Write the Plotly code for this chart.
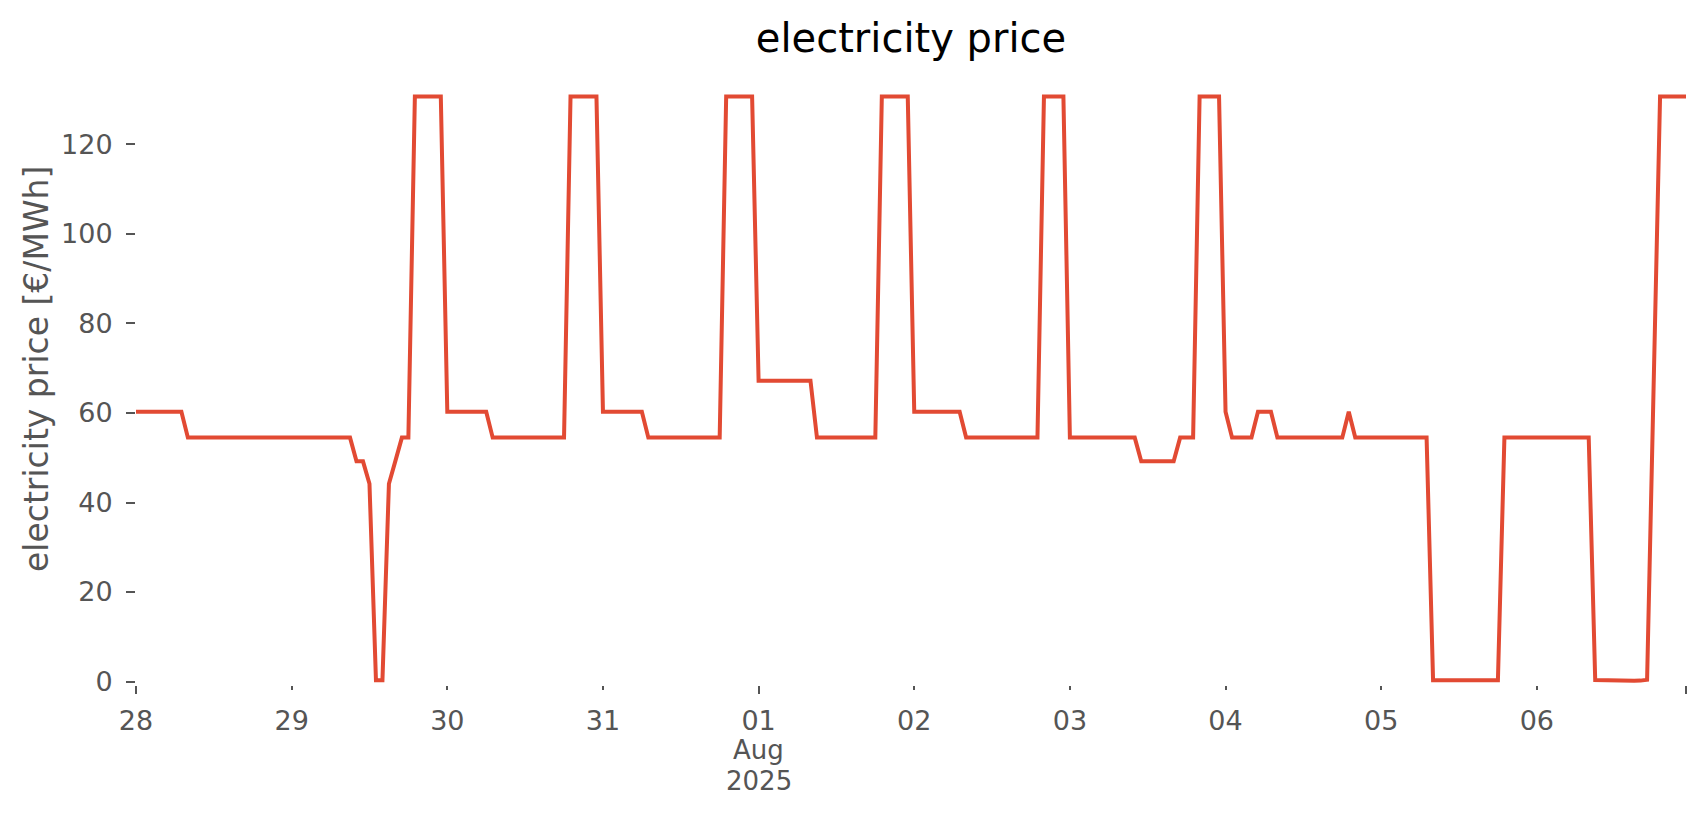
import pandas as pd
import plotly.graph_objects as go

# hourly timestamps (Jul 28 00:00 .. Aug 6 23:00, 2025)
start = "2025-07-28 00:00"
n_hours = 240

# hourly electricity price [€/MWh], one list per day
jul28 = [60.3, 60.3, 60.3, 60.3, 60.3, 60.3, 60.3, 60.3, 54.5, 54.5, 54.5, 54.5,
         54.5, 54.5, 54.5, 54.5, 54.5, 54.5, 54.5, 54.5, 54.5, 54.5, 54.5, 54.5]
jul29 = [54.5, 54.5, 54.5, 54.5, 54.5, 54.5, 54.5, 54.5, 54.5, 54.5, 49.2, 49.2,
         44.2, 0.3, 0.3, 44.2, 49.3, 54.5, 54.5, 130.7, 130.7, 130.7, 130.7, 130.7]
jul30 = [60.3, 60.3, 60.3, 60.3, 60.3, 60.3, 60.3, 54.5, 54.5, 54.5, 54.5, 54.5,
         54.5, 54.5, 54.5, 54.5, 54.5, 54.5, 54.5, 130.7, 130.7, 130.7, 130.7, 130.7]
jul31 = [60.3, 60.3, 60.3, 60.3, 60.3, 60.3, 60.3, 54.5, 54.5, 54.5, 54.5, 54.5,
         54.5, 54.5, 54.5, 54.5, 54.5, 54.5, 54.5, 130.7, 130.7, 130.7, 130.7, 130.7]
aug01 = [67.2, 67.2, 67.2, 67.2, 67.2, 67.2, 67.2, 67.2, 67.2, 54.5, 54.5, 54.5,
         54.5, 54.5, 54.5, 54.5, 54.5, 54.5, 54.5, 130.7, 130.7, 130.7, 130.7, 130.7]
aug02 = [60.3, 60.3, 60.3, 60.3, 60.3, 60.3, 60.3, 60.3, 54.5, 54.5, 54.5, 54.5,
         54.5, 54.5, 54.5, 54.5, 54.5, 54.5, 54.5, 54.5, 130.7, 130.7, 130.7, 130.7]
aug03 = [54.5, 54.5, 54.5, 54.5, 54.5, 54.5, 54.5, 54.5, 54.5, 54.5, 54.5, 49.2,
         49.2, 49.2, 49.2, 49.2, 49.2, 54.5, 54.5, 54.5, 130.7, 130.7, 130.7, 130.7]
aug04 = [60.3, 54.5, 54.5, 54.5, 54.5, 60.3, 60.3, 60.3, 54.5, 54.5, 54.5, 54.5,
         54.5, 54.5, 54.5, 54.5, 54.5, 54.5, 54.5, 60.3, 54.5, 54.5, 54.5, 54.5]
aug05 = [54.5, 54.5, 54.5, 54.5, 54.5, 54.5, 54.5, 54.5, 0.3, 0.3, 0.3, 0.3,
         0.3, 0.3, 0.3, 0.3, 0.3, 0.3, 0.3, 54.5, 54.5, 54.5, 54.5, 54.5]
aug06 = [54.5, 54.5, 54.5, 54.5, 54.5, 54.5, 54.5, 54.5, 54.5, 0.35, 0.3, 0.2,
         0.15, 0.1, 0.1, 0.15, 0.2, 0.4, 65.5, 130.7, 130.7, 130.7, 130.7, 130.7]

prices = jul28 + jul29 + jul30 + jul31 + aug01 + aug02 + aug03 + aug04 + aug05 + aug06
times = pd.date_range(start, periods=n_hours, freq="h")

# tick labels
day_ticks = ["2025-07-28", "2025-07-29", "2025-07-30", "2025-07-31", "2025-08-01",
             "2025-08-02", "2025-08-03", "2025-08-04", "2025-08-05", "2025-08-06"]
day_labels = ["28", "29", "30", "31", "01", "02", "03", "04", "05", "06"]
major_ticks = ["2025-07-28", "2025-08-01", "2025-08-06 23:00"]
y_ticks = [0, 20, 40, 60, 80, 100, 120]

LINE = "#E24A33"
GREY = "#555555"
FONT = "DejaVu Sans"

fig = go.Figure()
fig.add_trace(go.Scatter(x=times, y=prices, mode="lines",
                         line=dict(color=LINE, width=4), showlegend=False,
                         hoverinfo="x+y"))
# empty trace so the overlay axis (long ticks) is drawn
fig.add_trace(go.Scatter(x=[], y=[], xaxis="x2", yaxis="y", showlegend=False))

W, H = 1706, 815
plot_left, plot_right = 136, W - 20
plot_top, plot_bottom = 94, H - 130
xr = [times[0], times[-1]]
fig.update_layout(
    width=W, height=H,
    margin=dict(l=plot_left, r=W - plot_right, t=plot_top, b=H - plot_bottom),
    paper_bgcolor="white", plot_bgcolor="white",
    font=dict(family=FONT, color=GREY),
    title=dict(text="electricity price", x=0.5, xref="paper", xanchor="center",
               y=1 - 38 / H, yref="container", yanchor="middle",
               font=dict(size=40, color="#000000", family=FONT)),
    xaxis=dict(type="date", range=xr, showgrid=False, zeroline=False,
               showline=False, tickmode="array", tickvals=day_ticks,
               ticktext=day_labels, ticks="outside", ticklen=4, tickwidth=1.5,
               tickcolor=GREY, tickfont=dict(size=27, color=GREY, family=FONT),
               ticklabelstandoff=8),
    xaxis2=dict(type="date", range=xr, overlaying="x", anchor="y", side="bottom",
                showgrid=False, zeroline=False, showline=False,
                tickmode="array", tickvals=major_ticks, showticklabels=False,
                ticks="outside", ticklen=8, tickwidth=1.8, tickcolor=GREY),
    yaxis=dict(range=[-0.78, 131.28], showgrid=False, zeroline=False,
               showline=False, tickmode="array", tickvals=y_ticks,
               ticks="outside", ticklen=9, tickwidth=1.5, tickcolor=GREY,
               tickfont=dict(size=27, color=GREY, family=FONT),
               ticklabelstandoff=8),
)

def px_x(p):
    return (p - plot_left) / (plot_right - plot_left)

def px_y(p):
    return (plot_bottom - p) / (plot_bottom - plot_top)

# y-axis label (placed to match the reference position)
fig.add_annotation(x=px_x(36), y=px_y(369), xref="paper", yref="paper",
                   xanchor="center", yanchor="middle", textangle=-90,
                   text="electricity price [€/MWh]", showarrow=False,
                   font=dict(size=33, color=GREY, family=FONT))

# month / year labels under the "01" tick
for label, py in (("Aug", 750), ("2025", 781)):
    fig.add_annotation(x="2025-08-01", y=px_y(py), xref="x", yref="paper",
                       yanchor="middle", text=label, showarrow=False, borderpad=0,
                       font=dict(size=26, color=GREY, family=FONT))

fig.write_html("out.html", config={"displayModeBar": False},
               post_script="document.body.style.margin='0';")
